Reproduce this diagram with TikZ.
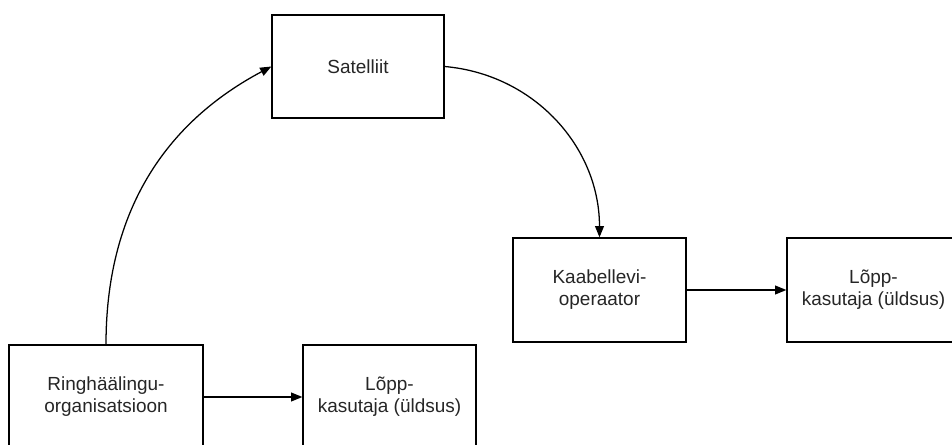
\documentclass[tikz,border=0pt]{standalone}
\usepackage{fontspec}
\setmainfont{Liberation Sans}
\usetikzlibrary{arrows.meta}

\tikzset{
  box/.style={draw, line width=0.9pt, rectangle, minimum width=4.325cm, minimum height=2.6cm,
    align=center, inner sep=0pt, text=black!85, font=\fontsize{13.5}{15.6}\selectfont},
  flow/.style={line width=0.9pt, -{Triangle[length=0.28cm, width=0.22cm]}}
}

\begin{document}
\begin{tikzpicture}

	%page frame
	\useasboundingbox (0,0) rectangle (23.8,11.1);
	\clip (0,0) rectangle (23.8,11.1);

	%the boxes
	\draw node[box, minimum width=4.3cm, minimum height=2.575cm] (sat) at (8.95,9.4375) {Satelliit};
	\draw node[box] (kaabel) at (14.9875,3.85) {Kaabellevi-\\operaator};
	\draw node[box] (lopp2) at (21.8375,3.85) {L\~opp-\\kasutaja (\"uldsus)};
	\draw node[box, minimum width=4.85cm] (ring) at (2.65,1.175) {Ringh\"a\"alingu-\\organisatsioon};
	\draw node[box] (lopp1) at (9.7375,1.175) {L\~opp-\\kasutaja (\"uldsus)};

	%the arrows
	\draw[flow] (ring.north) to[out=90, in=208] (sat.west);
	\draw[flow] (sat.east) to[out=-5, in=90] (kaabel.north);
	\draw[flow] (ring.east) -- (lopp1.west);
	\draw[flow] (kaabel.east) -- (lopp2.west);

\end{tikzpicture}
\end{document}
